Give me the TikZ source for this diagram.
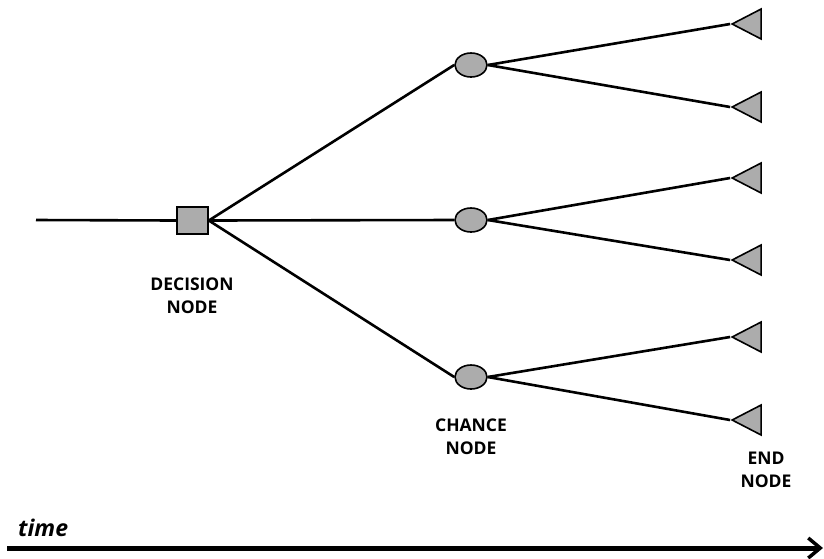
\documentclass[tikz,border=0pt]{standalone}
\usepackage{fontspec}
\setmainfont{Open Sans}
\usetikzlibrary{shapes.geometric,arrows.meta}
\begin{document}
\begin{tikzpicture}[x=1pt,y=-1pt,
  edge/.style={line width=2.6pt,black},
  decbox/.style={draw,line width=1.6pt,fill=gray!65,minimum width=31pt,minimum height=27pt,inner sep=0pt},
  chancebox/.style={draw,ellipse,line width=1.6pt,fill=gray!65,minimum width=32pt,minimum height=24pt,inner sep=0pt},
  endbox/.style={draw,isosceles triangle,isosceles triangle stretches,shape border rotate=180,line width=1.6pt,fill=gray!65,minimum height=29pt,minimum width=30pt,inner sep=0pt},
  lbl/.style={font=\bfseries\fontsize{17.5}{23}\selectfont,align=center}]
\useasboundingbox (0,0) rectangle (824,558);
\coordinate (start) at (36,220);
\node[decbox] (d) at (192.5,220.5) {};
\node[chancebox] (c1) at (471,65) {};
\node[chancebox] (c2) at (471,220) {};
\node[chancebox] (c3) at (471,377) {};
\node[endbox] (e1) at (752,24) {};
\node[endbox] (e2) at (752,107) {};
\node[endbox] (e3) at (752,178) {};
\node[endbox] (e4) at (752,260) {};
\node[endbox] (e5) at (752,337) {};
\node[endbox] (e6) at (752,420) {};
\draw[edge] (start) -- (d.west);
\draw[edge] (d.east) -- (c1.west);
\draw[edge] (d.east) -- (c2.west);
\draw[edge] (d.east) -- (c3.west);
\draw[edge] (c1.east) -- (e1.apex);
\draw[edge] (c1.east) -- (e2.apex);
\draw[edge] (c2.east) -- (e3.apex);
\draw[edge] (c2.east) -- (e4.apex);
\draw[edge] (c3.east) -- (e5.apex);
\draw[edge] (c3.east) -- (e6.apex);
\node[lbl] (ld) at (192,296) {DECISION\\NODE};
\node[lbl] (lc) at (471,437) {CHANCE\\NODE};
\node[lbl] (le) at (766,470) {END\\NODE};
\node[font=\bfseries\itshape\fontsize{23}{25}\selectfont,anchor=base west,inner sep=0pt] (lt) at (18,536) {time};
\coordinate (ta) at (7,548);
\coordinate (tb) at (823,548);
\draw[line width=5pt,-{Straight Barb[length=12pt,width=20pt,line width=3.5pt]}] (ta) -- (tb);
\end{tikzpicture}
\end{document}
